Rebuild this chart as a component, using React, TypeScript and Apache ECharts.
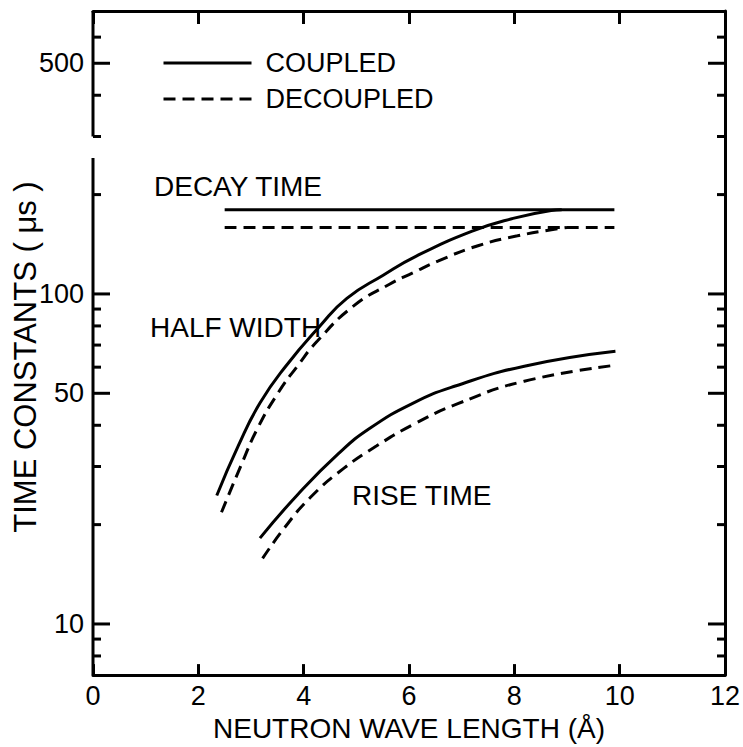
import React, { useEffect, useRef } from "react";
import * as echarts from "echarts";

const FONT = "'Liberation Sans', Arial, sans-serif";

// Axis ranges
const X_MIN = 0;
const X_MAX = 12;
const X_INTERVAL = 2;
const Y_MIN = 7;
const Y_MAX = 720;

// Y tick values and labels
const yMajorTicks = [10, 50, 100, 500];
const yTickLabels = ["10", "50", "100", "500"];
const yMinorTicks = [8, 9, 20, 30, 40, 60, 70, 80, 90, 200, 300, 400, 600];
// left axis drawn in two pieces (broken between 258 and 300)
const yAxisSegments = [
  [720, 300],
  [258, 7],
];

// Decay time (horizontal lines)
const decayX = [2.5, 9.9];
const decayCoupled = [180, 180];
const decayDecoupled = [159, 159];

// Half width
const halfWidthCoupledX = [2.35, 2.76, 3.17, 3.66, 4.31, 4.82, 5.51, 6.13, 7.2, 7.95, 8.7, 8.9];
const halfWidthCoupled = [24.5, 34.7, 46.7, 60.4, 80, 97, 114, 130, 155, 169, 179, 180];
const halfWidthDecoupledX = [2.44, 2.81, 3.13, 3.51, 3.88, 4.26, 4.95, 5.63, 6.08, 6.56, 7.31, 8.06, 8.76, 9.0];
const halfWidthDecoupled = [21.8, 30.2, 39.3, 50, 60.4, 72, 92, 107, 116, 126, 140, 150, 157, 159];

// Rise time
const riseCoupledX = [3.17, 3.88, 4.66, 5.25, 6.08, 6.88, 8.19, 9.92];
const riseCoupled = [18.2, 24.6, 32.8, 39.1, 46.7, 52.6, 60.4, 67];
const riseDecoupledX = [3.22, 3.64, 4.13, 4.76, 5.38, 6.08, 6.94, 8.19, 9.92];
const riseDecoupled = [15.8, 19.6, 24.2, 29.6, 34.6, 40.2, 46.6, 54.4, 60.8];

const COUPLED = "COUPLED";
const DECOUPLED = "DECOUPLED";

const pairs = (xs: number[], ys: number[]) => xs.map((x, i) => [x, ys[i]]);

const lineSeries = (name: string, xs: number[], ys: number[], dashed: boolean) => ({
  name,
  type: "line",
  data: pairs(xs, ys),
  xAxisIndex: 0,
  yAxisIndex: 0,
  showSymbol: false,
  symbol: "none",
  smooth: 0.5,
  silent: true,
  lineStyle: { color: "#000", width: 3, type: dashed ? [12, 7] : "solid" },
  itemStyle: { color: "#000" },
  emphasis: { disabled: true },
  z: 3,
});

const tickSeries = (values: number[], len: number, labels?: string[]) => ({
  type: "custom",
  coordinateSystem: "cartesian2d",
  xAxisIndex: 0,
  yAxisIndex: 0,
  clip: false,
  silent: true,
  z: 10,
  data: values.map((v, i) => [X_MIN, v, i]),
  encode: { x: 0, y: 1 },
  renderItem: (_params: any, api: any) => {
    const v = api.value(1);
    const idx = api.value(2);
    const [lx, y] = api.coord([X_MIN, v]);
    const [rx] = api.coord([X_MAX, v]);
    const children: any[] = [
      { type: "line", shape: { x1: lx, y1: y, x2: lx + len, y2: y }, style: { stroke: "#000", lineWidth: 3 } },
      { type: "line", shape: { x1: rx - len, y1: y, x2: rx, y2: y }, style: { stroke: "#000", lineWidth: 3 } },
    ];
    if (labels) {
      children.push({
        type: "text",
        style: {
          x: lx - 9,
          y: y,
          text: labels[idx],
          fill: "#000",
          fontSize: 27,
          fontFamily: FONT,
          align: "right",
          verticalAlign: "middle",
        },
      });
    }
    return { type: "group", children };
  },
});

const axisSegmentSeries = {
  type: "custom",
  coordinateSystem: "cartesian2d",
  xAxisIndex: 0,
  yAxisIndex: 0,
  clip: false,
  silent: true,
  z: 10,
  data: yAxisSegments.map((s) => [X_MIN, s[0], s[1]]),
  encode: { x: 0, y: 1 },
  renderItem: (_params: any, api: any) => {
    const [x1, y1] = api.coord([X_MIN, api.value(1)]);
    const [, y2] = api.coord([X_MIN, api.value(2)]);
    return {
      type: "line",
      shape: { x1, y1, x2: x1, y2 },
      style: { stroke: "#000", lineWidth: 3 },
    };
  },
};

export default function App() {
  const ref = useRef<HTMLDivElement>(null);

  useEffect(() => {
    if (!ref.current) return;
    const chart = echarts.init(ref.current, undefined, { renderer: "svg" });
    const axisLine = { show: true, onZero: false, lineStyle: { color: "#000", width: 3 } };
    const option: any = {
      animation: false,
      backgroundColor: "#fff",
      grid: { left: 93, right: 10, top: 11, bottom: 64, containLabel: false },
      legend: {
        data: [COUPLED, DECOUPLED],
        orient: "vertical",
        left: 162,
        top: 45,
        padding: 0,
        itemWidth: 88,
        itemHeight: 14,
        itemGap: 0,
        selectedMode: false,
        itemStyle: { opacity: 0 },
        lineStyle: { width: 3 },
        textStyle: {
          color: "#000",
          fontSize: 27,
          fontFamily: FONT,
          lineHeight: 36,
          padding: [0, 0, 0, 9],
        },
      },
      xAxis: [
        {
          type: "value",
          min: X_MIN,
          max: X_MAX,
          interval: X_INTERVAL,
          position: "bottom",
          axisLine,
          axisTick: { show: true, inside: true, length: 11, lineStyle: { color: "#000", width: 3 } },
          axisLabel: { show: true, color: "#000", fontSize: 27, fontFamily: FONT, margin: 7 },
          splitLine: { show: false },
          name: "NEUTRON WAVE LENGTH (Å)",
          nameLocation: "middle",
          nameGap: 33,
          nameTextStyle: { color: "#000", fontSize: 28, fontFamily: FONT },
        },
        {
          type: "value",
          min: X_MIN,
          max: X_MAX,
          interval: X_INTERVAL,
          position: "top",
          axisLine,
          axisTick: { show: true, inside: true, length: 13, lineStyle: { color: "#000", width: 3 } },
          axisLabel: { show: false },
          splitLine: { show: false },
        },
      ],
      yAxis: [
        {
          type: "log",
          logBase: 10,
          min: Y_MIN,
          max: Y_MAX,
          position: "left",
          axisLine: { show: false },
          axisTick: { show: false },
          axisLabel: { show: false },
          splitLine: { show: false },
          minorTick: { show: false },
        },
        {
          type: "log",
          logBase: 10,
          min: Y_MIN,
          max: Y_MAX,
          position: "right",
          axisLine,
          axisTick: { show: false },
          axisLabel: { show: false },
          splitLine: { show: false },
        },
      ],
      graphic: [
        {
          type: "text",
          x: 25,
          y: 357,
          rotation: Math.PI / 2,
          style: {
            text: "TIME CONSTANTS ( μs )",
            fill: "#000",
            fontSize: 31,
            fontFamily: FONT,
            align: "center",
            verticalAlign: "middle",
          },
        },
        {
          type: "text",
          x: 154,
          y: 186,
          style: { text: "DECAY TIME", fill: "#000", fontSize: 28, fontFamily: FONT, align: "left", verticalAlign: "middle" },
        },
        {
          type: "text",
          x: 150,
          y: 327,
          style: { text: "HALF WIDTH", fill: "#000", fontSize: 28, fontFamily: FONT, align: "left", verticalAlign: "middle" },
        },
        {
          type: "text",
          x: 352,
          y: 495,
          style: { text: "RISE TIME", fill: "#000", fontSize: 28, fontFamily: FONT, align: "left", verticalAlign: "middle" },
        },
      ],
      series: [
        lineSeries(COUPLED, decayX, decayCoupled, false),
        lineSeries(DECOUPLED, decayX, decayDecoupled, true),
        lineSeries(COUPLED, halfWidthCoupledX, halfWidthCoupled, false),
        lineSeries(DECOUPLED, halfWidthDecoupledX, halfWidthDecoupled, true),
        lineSeries(COUPLED, riseCoupledX, riseCoupled, false),
        lineSeries(DECOUPLED, riseDecoupledX, riseDecoupled, true),
        tickSeries(yMajorTicks, 17, yTickLabels),
        tickSeries(yMinorTicks, 8),
        axisSegmentSeries,
      ],
    };
    chart.setOption(option);
    return () => chart.dispose();
  }, []);

  return (
    <div
      ref={ref}
      style={{ position: "fixed", left: 0, top: 0, width: 743, height: 747, background: "#fff" }}
    />
  );
}
